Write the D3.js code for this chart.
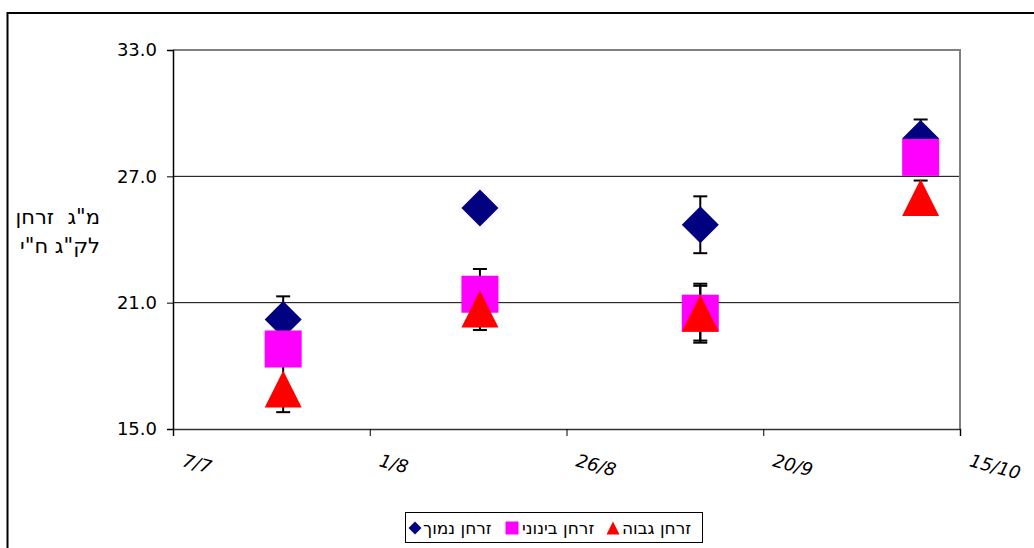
<!DOCTYPE html>
<html><head><meta charset="utf-8">
<script src="https://cdn.jsdelivr.net/npm/d3@7"></script>
<style>
html,body{margin:0;padding:0;background:#fff;}
svg{display:block;}
</style></head>
<body>
<svg id="chart" width="1034" height="548"></svg>
<script>
// ---- data ----
const sampleDates = ["2005-07-21","2005-08-15","2005-09-12","2005-10-10"];
const seriesNames = ["זרחן נמוך","זרחן בינוני","זרחן גבוה"];
const lowValues = [20.2, 25.5, 24.7, 28.8];
const lowErrors = [1.1, 0.5, 1.35, 0.9];
const midValues = [18.8, 21.4, 20.5, 27.9];
const midErrors = [0.8, 1.2, 1.3, 0.7];
const highValues = [16.9, 20.7, 20.5, 26.0];
const highErrors = [1.1, 1.0, 1.4, 0.8];
const xTickDates = ["2005-07-07","2005-08-01","2005-08-26","2005-09-20","2005-10-15"];
const xTickLabels = ["7/7","1/8","26/8","20/9","15/10"];
const yTickValues = [15, 21, 27, 33];
const yLabelLines = ["מ\"ג  זרחן","לק\"ג ח\"י"];

const parse = d3.utcParse("%Y-%m-%d");
const svg = d3.select("#chart");
const F = "DejaVu Sans, Verdana, sans-serif";

// outer border
svg.append("rect").attr("x",7.5).attr("y",13).attr("width",1200).attr("height",700)
  .attr("fill","none").attr("stroke","#000").attr("stroke-width",2);

const L=173, R=960, T=50, B=429;
const x = d3.scaleUtc().domain([parse(xTickDates[0]), parse(xTickDates[4])]).range([L,R]);
const y = d3.scaleLinear().domain([15,33]).range([B,T]);

// gridlines
svg.append("g").selectAll("line").data(yTickValues.filter(v=>v>15 && v<33)).join("line")
  .attr("x1",L).attr("x2",R).attr("y1",d=>y(d)).attr("y2",d=>y(d))
  .attr("stroke","#000").attr("stroke-width",1);

// plot border (gray)
svg.append("path").attr("d",`M${L},${T}H${R}V${B}`).attr("fill","none")
  .attr("stroke","#808080").attr("stroke-width",2);

// y axis
const yAxis = svg.append("g").attr("transform",`translate(${L},0)`)
  .call(d3.axisLeft(y).tickValues(yTickValues).tickFormat(d3.format(".1f")).tickSize(6).tickPadding(10));
yAxis.select(".domain").attr("stroke","#000").attr("stroke-width",1.5);
yAxis.selectAll("text").attr("font-family",F).attr("font-size",18).attr("fill","#000");

// x axis
const xAxis = svg.append("g").attr("transform",`translate(0,${B})`)
  .call(d3.axisBottom(x).tickValues(xTickDates.map(parse)).tickFormat((d,i)=>xTickLabels[i]).tickSize(7));
xAxis.select(".domain").attr("stroke","#333").attr("stroke-width",1.5);
xAxis.selectAll("text").attr("font-family",F).attr("font-size",18).attr("font-style","italic")
  .attr("fill","#000").attr("text-anchor","start").attr("y",0).attr("dy",0)
  .attr("transform","translate(8,37) rotate(15)");

// y label
const yl = svg.append("text").attr("font-family",F).attr("font-size",21).attr("text-anchor","end")
  .style("white-space","pre");
yLabelLines.forEach((t,i)=>yl.append("tspan").attr("x",100).attr("y",224+i*29).text(t));

// markers
const symSize = 37;
function marker(g, type, cx, cy, s){
  if(type===0){ // diamond
    const h=s/2;
    g.append("path").attr("d",`M${cx},${cy-h}L${cx+h},${cy}L${cx},${cy+h}L${cx-h},${cy}Z`).attr("fill","#000080");
  } else if(type===1){
    g.append("rect").attr("x",cx-s/2).attr("y",cy-s/2).attr("width",s).attr("height",s).attr("fill","#ff00ff");
  } else {
    const h=s/2;
    g.append("path").attr("d",`M${cx},${cy-h}L${cx+h},${cy+h}L${cx-h},${cy+h}Z`).attr("fill","#ff0000");
  }
}
const series = [
  {vals:lowValues, errs:lowErrors},
  {vals:midValues, errs:midErrors},
  {vals:highValues, errs:highErrors}
];
const eg = svg.append("g");
series.forEach(s=>{
  sampleDates.forEach((d,i)=>{
    const cx = x(parse(d)), v=s.vals[i], e=s.errs[i];
    const y1=y(v+e), y2=y(v-e);
    eg.append("line").attr("x1",cx).attr("x2",cx).attr("y1",y1).attr("y2",y2).attr("stroke","#000").attr("stroke-width",2);
    [y1,y2].forEach(yy=>eg.append("line").attr("x1",cx-7).attr("x2",cx+7).attr("y1",yy).attr("y2",yy).attr("stroke","#000").attr("stroke-width",2));
  });
});
const mg = svg.append("g");
series.forEach((s,k)=>{
  sampleDates.forEach((d,i)=>marker(mg,k,x(parse(d)),y(s.vals[i]),symSize));
});

// legend
const lg = svg.append("g");
lg.append("rect").attr("x",405.5).attr("y",512.5).attr("width",297).attr("height",30)
  .attr("fill","#fff").attr("stroke","#000").attr("stroke-width",1);
const legMarkX = [415, 512, 613];
const legTextX = [423, 522, 622];
seriesNames.forEach((n,k)=>{
  marker(lg,k,legMarkX[k],528,13);
  lg.append("text").attr("x",legTextX[k]).attr("y",534)
    .attr("font-family",F).attr("font-size",17).attr("fill","#000").text(n);
});
</script>
</body></html>
